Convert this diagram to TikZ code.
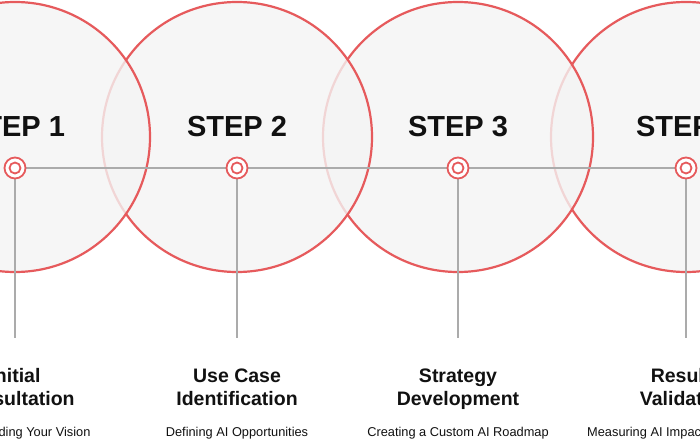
\documentclass[tikz,border=0pt]{standalone}
\usepackage{fontspec}
\setmainfont{Liberation Sans}
\definecolor{stepred}{HTML}{E65A5C}
\definecolor{linegray}{HTML}{ABABAB}
\definecolor{fillgray}{HTML}{F4F4F4}
\definecolor{txt}{HTML}{111111}
\begin{document}
\begin{tikzpicture}[x=1pt,y=-1pt,
  bigcircle/.style={circle, draw=stepred, line width=2.2pt, fill=fillgray, fill opacity=0.8, minimum size=270pt, inner sep=0pt},
  dotouter/.style={circle, draw=stepred, line width=1.8pt, fill=white, minimum size=21pt, inner sep=0pt},
  dotinner/.style={circle, draw=stepred, line width=1.8pt, fill=white, minimum size=11pt, inner sep=0pt},
  conn/.style={draw=linegray, line width=2.4pt},
  steptxt/.style={anchor=base, text=txt, inner sep=0pt, font=\bfseries\fontsize{29}{29}\selectfont},
  titletxt/.style={anchor=base, text=txt, inner sep=0pt, font=\bfseries\fontsize{19.5}{19.5}\selectfont},
  subtxt/.style={anchor=base, text=txt, inner sep=0pt, font=\fontsize{12.8}{12.8}\selectfont}]
\useasboundingbox (0,0) rectangle (700,441);
\fill[white] (0,0) rectangle (700,441);
% big circles, right to left so the left one lies on top
\node[bigcircle] (c4) at (686,137) {};
\node[bigcircle] (c3) at (458,137) {};
\node[bigcircle] (c2) at (237,137) {};
\node[bigcircle] (c1) at (15,137) {};
% step labels
\node[steptxt] (s1) at (15,136) {STEP 1};
\node[steptxt] (s2) at (237,136) {STEP 2};
\node[steptxt] (s3) at (458,136) {STEP 3};
\node[steptxt] (s4) at (686,136) {STEP 4};
% line end points
\coordinate (e1) at (15,338);
\coordinate (e2) at (237,338);
\coordinate (e3) at (458,338);
\coordinate (e4) at (686,338);
\coordinate (p1) at (15,168);
\coordinate (p2) at (237,168);
\coordinate (p3) at (458,168);
\coordinate (p4) at (686,168);
% connectors
\draw[conn] (p1) -- (p4);
\draw[conn] (p1) -- (e1);
\draw[conn] (p2) -- (e2);
\draw[conn] (p3) -- (e3);
\draw[conn] (p4) -- (e4);
% dots
\foreach \i in {1,2,3,4}{
  \node[dotouter] (d\i) at (p\i) {};
  \node[dotinner] (di\i) at (p\i) {};
}
% titles
\node[titletxt] (t1a) at (15,382) {Initial};
\node[titletxt] (t1b) at (15,405) {Consultation};
\node[titletxt] (t2a) at (237,382) {Use Case};
\node[titletxt] (t2b) at (237,405) {Identification};
\node[titletxt] (t3a) at (458,382) {Strategy};
\node[titletxt] (t3b) at (458,405) {Development};
\node[titletxt] (t4a) at (686,382) {Results};
\node[titletxt] (t4b) at (686,405) {Validation};
% subtitles
\node[subtxt] (u1) at (15,436) {Understanding Your Vision};
\node[subtxt] (u2) at (237,436) {Defining AI Opportunities};
\node[subtxt] (u3) at (458,436) {Creating a Custom AI Roadmap};
\node[subtxt, anchor=base west] (u4) at (587,436) {Measuring AI Impact};
\end{tikzpicture}
\end{document}
